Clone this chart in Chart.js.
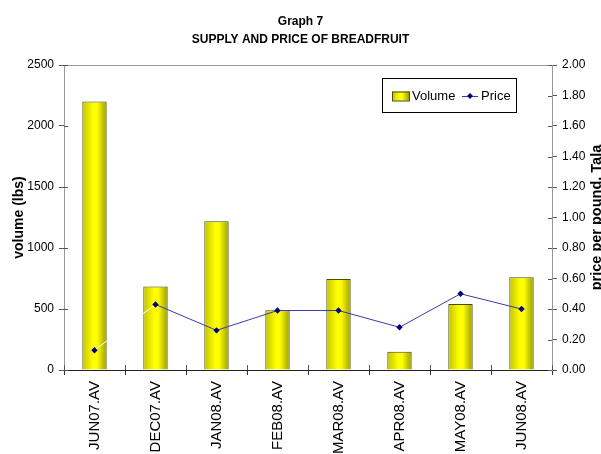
<!DOCTYPE html>
<html>
<head>
<meta charset="utf-8">
<script src="https://cdn.jsdelivr.net/npm/chart.js@4/dist/chart.umd.min.js"></script>
<style>
  html, body { margin: 0; padding: 0; background: #ffffff; }
  #wrap { width: 601px; height: 454px; }
</style>
</head>
<body>
<div id="wrap"><canvas id="c" width="601" height="454"></canvas></div>
<script>
// ---- data ----
const categories = ['JUN07.AV', 'DEC07.AV', 'JAN08.AV', 'FEB08.AV', 'MAR08.AV', 'APR08.AV', 'MAY08.AV', 'JUN08.AV'];
const volume = [2200, 685, 1220, 490, 745, 150, 540, 760];
const price = [0.13, 0.43, 0.26, 0.39, 0.39, 0.28, 0.50, 0.40];
const volumeTicks = [0, 500, 1000, 1500, 2000, 2500];
const priceTicks = [0, 0.2, 0.4, 0.6, 0.8, 1.0, 1.2, 1.4, 1.6, 1.8, 2.0];
const titleLines = ['Graph 7', 'SUPPLY AND PRICE OF BREADFRUIT'];
const leftTitle = 'volume (lbs)';
const rightTitle = 'price per pound. Tala';

const FONT = '"Liberation Sans", Arial, sans-serif';

function yellowGradient(ctx, l, r) {
  const g = ctx.createLinearGradient(l, 0, r, 0);
  g.addColorStop(0, '#c4c400');
  g.addColorStop(0.45, '#ffff00');
  g.addColorStop(0.6, '#ffff00');
  g.addColorStop(1, '#9c9c00');
  return g;
}

// bar gradient plugin (each bar gets its own gradient)
const barGradient = {
  id: 'barGradient',
  beforeDatasetsDraw(chart) {
    const ctx = chart.ctx;
    const meta = chart.getDatasetMeta(0);
    meta.data.forEach(el => {
      if (!isFinite(el.x) || !isFinite(el.width)) return;
      const g = yellowGradient(ctx, el.x - el.width / 2, el.x + el.width / 2);
      const own = Object.assign({}, el.options);
      own.backgroundColor = g;
      el.options = own;
    });
  }
};

// frame: top border, inner tick halves, right title, legend
const framePlugin = {
  id: 'frame',
  afterDraw(chart) {
    const ctx = chart.ctx;
    const a = chart.chartArea;
    ctx.save();
    // top border
    ctx.strokeStyle = '#9a9a9a';
    ctx.lineWidth = 1;
    ctx.beginPath();
    ctx.moveTo(a.left, a.top + 0.5);
    ctx.lineTo(a.right, a.top + 0.5);
    ctx.stroke();
    // inner tick halves
    const yl = chart.scales.y, yr = chart.scales.y1, x = chart.scales.x;
    ctx.strokeStyle = '#555';
    ctx.beginPath();
    yl.ticks.forEach((t, i) => {
      const py = Math.round(yl.getPixelForTick(i)) + 0.5;
      ctx.moveTo(a.left, py); ctx.lineTo(a.left + 4, py);
    });
    yr.ticks.forEach((t, i) => {
      const py = Math.round(yr.getPixelForTick(i)) + 0.5;
      ctx.moveTo(a.right - 4, py); ctx.lineTo(a.right, py);
    });
    for (let i = 0; i <= categories.length; i++) {
      const px = Math.round(x.getPixelForValue(i - 0.5)) + 0.5;
      ctx.moveTo(px, a.bottom); ctx.lineTo(px, a.bottom - 5);
    }
    ctx.stroke();
    // right axis title, reading upward
    ctx.fillStyle = '#000';
    ctx.font = 'bold 14.5px ' + FONT;
    ctx.textAlign = 'center';
    ctx.textBaseline = 'middle';
    ctx.translate(597, (a.top + a.bottom) / 2);
    ctx.rotate(-Math.PI / 2);
    ctx.fillText(rightTitle, 0, 0);
    ctx.restore();

    // legend
    ctx.save();
    const bx = a.right - 170, by = a.top + 13, bw = 134, bh = 34;
    ctx.fillStyle = '#ffffff';
    ctx.fillRect(bx, by, bw, bh);
    ctx.strokeStyle = '#000';
    ctx.lineWidth = 1;
    ctx.strokeRect(bx + 0.5, by + 0.5, bw, bh);
    const cy = by + bh / 2 + 1;
    // swatch
    const sx = bx + 10, sw = 17, sh = 9;
    ctx.fillStyle = yellowGradient(ctx, sx, sx + sw);
    ctx.fillRect(sx, cy - sh / 2, sw, sh);
    ctx.strokeStyle = '#4a4a00';
    ctx.strokeRect(sx + 0.5, cy - sh / 2 + 0.5, sw, sh);
    ctx.fillStyle = '#000';
    ctx.font = '13px ' + FONT;
    ctx.textAlign = 'left';
    ctx.textBaseline = 'middle';
    ctx.fillText(chart.data.datasets[0].label, sx + sw + 3, cy);
    // line sample
    const lx = bx + 80;
    ctx.strokeStyle = '#3b3ba8';
    ctx.beginPath();
    ctx.moveTo(lx, cy + 0.5); ctx.lineTo(lx + 16, cy + 0.5);
    ctx.stroke();
    ctx.fillStyle = '#000080';
    ctx.beginPath();
    ctx.moveTo(lx + 8, cy - 3); ctx.lineTo(lx + 11, cy); ctx.lineTo(lx + 8, cy + 3); ctx.lineTo(lx + 5, cy);
    ctx.closePath(); ctx.fill();
    ctx.fillStyle = '#000';
    ctx.fillText(chart.data.datasets[1].label, lx + 19, cy);
    ctx.restore();
  }
};

new Chart(document.getElementById('c'), {
  data: {
    labels: categories,
    datasets: [
      {
        type: 'bar',
        label: 'Volume',
        data: volume,
        yAxisID: 'y',
        backgroundColor: '#ffff00',
        borderColor: '#4a4a00',
        borderWidth: 1,
        borderSkipped: 'bottom',
        categoryPercentage: 1,
        barPercentage: 0.4,
        order: 1
      },
      {
        type: 'line',
        label: 'Price',
        data: price,
        yAxisID: 'y1',
        borderColor: '#3b3ba8',
        borderWidth: 1,
        pointStyle: 'rectRot',
        pointRadius: 3.2,
        pointBackgroundColor: '#000080',
        pointBorderColor: '#000080',
        pointBorderWidth: 0,
        tension: 0,
        segment: {
          borderColor: ctx => ctx.p0DataIndex === 0 ? '#ffffff' : '#3b3ba8'
        },
        order: 0
      }
    ]
  },
  options: {
    responsive: false,
    devicePixelRatio: 1,
    animation: false,
    layout: { padding: 0 },
    plugins: {
      legend: { display: false },
      tooltip: { enabled: false },
      title: {
        display: true,
        text: titleLines,
        color: '#000',
        font: { family: FONT, size: 12, weight: 'bold', lineHeight: 1.5 },
        padding: { top: 13, bottom: 16 }
      }
    },
    scales: {
      x: {
        type: 'category',
        offset: true,
        afterFit(s) { s.height = 84; },
        grid: { display: true, drawOnChartArea: false, offset: true, tickLength: 5, color: '#333' },
        border: { color: '#222', width: 1 },
        ticks: { color: '#000', font: { family: FONT, size: 15 }, minRotation: 90, maxRotation: 90, padding: 6, autoSkip: false }
      },
      y: {
        position: 'left',
        min: 0, max: 2500,
        afterFit(s) { s.width = 64; },
        afterBuildTicks(s) { s.ticks = volumeTicks.map(v => ({ value: v })); },
        grid: { display: true, drawOnChartArea: false, tickLength: 5, color: '#555' },
        border: { color: '#999', width: 1 },
        ticks: { color: '#000', font: { family: FONT, size: 12 }, padding: 5, callback: v => String(v) },
        title: { display: true, text: leftTitle, color: '#000', font: { family: FONT, size: 14, weight: 'bold' }, padding: { top: 11, bottom: 0 } }
      },
      y1: {
        position: 'right',
        min: 0, max: 2,
        afterFit(s) { s.width = 49; },
        afterBuildTicks(s) { s.ticks = priceTicks.map(v => ({ value: v })); },
        grid: { display: true, drawOnChartArea: false, tickLength: 5, color: '#555' },
        border: { color: '#999', width: 1 },
        ticks: { color: '#000', font: { family: FONT, size: 12 }, padding: 5, callback: v => Number(v).toFixed(2) }
      }
    }
  },
  plugins: [barGradient, framePlugin]
});
</script>
</body>
</html>
